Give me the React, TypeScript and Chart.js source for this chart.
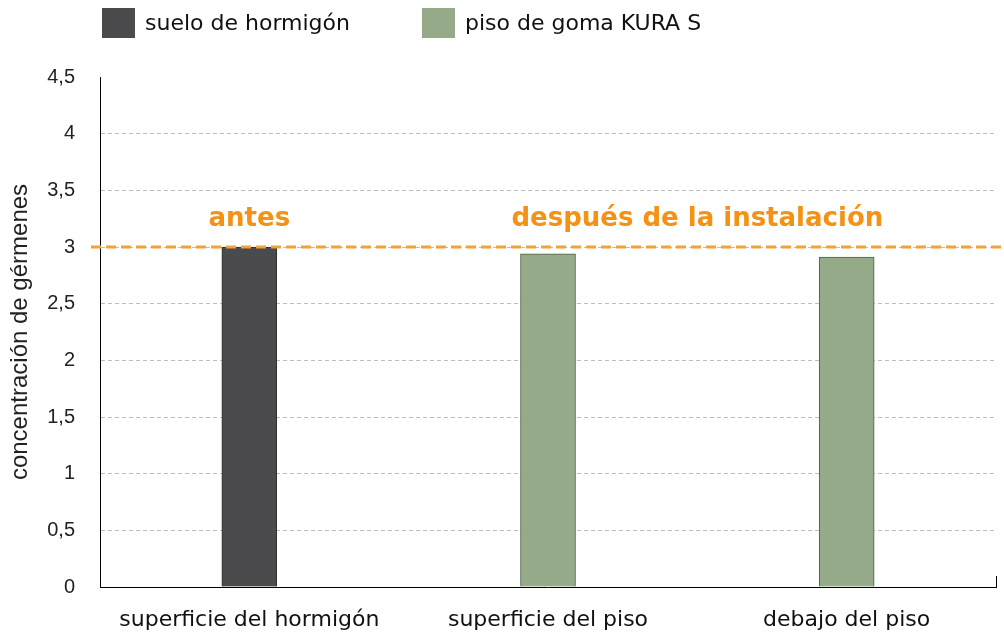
import React, { useEffect, useRef } from "react";
import { Chart, registerables } from "chart.js";

Chart.register(...registerables);

// ---- data ----
const categories = ["superficie del hormigón", "superficie del piso", "debajo del piso"];
const seriesLabels = ["suelo de hormigón", "piso de goma KURA S"];
const concreteValues = [3.0, null, null];
const rubberValues = [null, 2.94, 2.91];
const yMin = 0;
const yMax = 4.5;
const yStep = 0.5;
const referenceValue = 3;
const annotationTexts = ["antes", "después de la instalación"];
const yAxisTitle = "concentración de gérmenes";

const DARK = "#4b4b4d";
const GREEN = "#95aa88";
const ORANGE = "#f39214";

const legendPlugin = {
  id: "customLegend",
  afterDraw(chart: any) {
    const { ctx, chartArea } = chart;
    ctx.save();
    ctx.font = '22px "DejaVu Sans"';
    ctx.textBaseline = "middle";
    ctx.textAlign = "left";
    const boxW = 33;
    const boxH = 30;
    const top = 8;
    const gap = 72;
    let x = chartArea.left + 2;
    chart.data.datasets.forEach((ds: any) => {
      ctx.fillStyle = ds.backgroundColor;
      ctx.fillRect(x, top, boxW, boxH);
      ctx.fillStyle = "#111";
      ctx.fillText(ds.label, x + boxW + 10, top + boxH / 2 + 1);
      x += boxW + 10 + ctx.measureText(ds.label).width + gap;
    });
    ctx.restore();
  },
};

const referencePlugin = {
  id: "referenceLine",
  afterDatasetsDraw(chart: any) {
    const { ctx, chartArea, scales } = chart;
    const yy = scales.y.getPixelForValue(referenceValue);
    ctx.save();
    // right end tick of x axis
    ctx.strokeStyle = "#000";
    ctx.lineWidth = 1;
    ctx.beginPath();
    ctx.moveTo(Math.round(chartArea.right) + 0.5, chartArea.bottom - 11);
    ctx.lineTo(Math.round(chartArea.right) + 0.5, chartArea.bottom);
    ctx.stroke();
    // dashed reference line
    ctx.strokeStyle = "#f4a13a";
    ctx.lineWidth = 3;
    ctx.setLineDash([10, 5]);
    ctx.beginPath();
    ctx.moveTo(chartArea.left - 9, yy);
    ctx.lineTo(chart.width, yy);
    ctx.stroke();
    ctx.setLineDash([]);
    // labels
    const m0 = chart.getDatasetMeta(0).data;
    const m1 = chart.getDatasetMeta(1).data;
    ctx.fillStyle = ORANGE;
    ctx.font = 'bold 26px "DejaVu Sans"';
    ctx.textAlign = "center";
    ctx.textBaseline = "alphabetic";
    ctx.fillText(annotationTexts[0], m0[0].x, yy - 21);
    ctx.fillText(annotationTexts[1], (m1[1].x + m1[2].x) / 2, yy - 21);
    ctx.restore();
  },
};

export default function App() {
  const ref = useRef<HTMLCanvasElement>(null);
  useEffect(() => {
    document.body.style.margin = "0";
    if (!ref.current) return;
    const chart = new Chart(ref.current, {
      type: "bar",
      data: {
        labels: categories,
        datasets: [
          {
            label: seriesLabels[0],
            data: concreteValues,
            backgroundColor: DARK,
            borderColor: "#2e2e2e",
            borderWidth: 1,
          },
          {
            label: seriesLabels[1],
            data: rubberValues,
            backgroundColor: GREEN,
            borderColor: "#4c5f45",
            borderWidth: 1,
          },
        ],
      },
      options: {
        animation: false,
        responsive: true,
        maintainAspectRatio: false,
        skipNull: true,
        datasets: { bar: { barThickness: 55 } },
        layout: { padding: { top: 77, right: 8, left: 0, bottom: 0 } },
        plugins: {
          legend: { display: false },
          tooltip: { enabled: false },
        },
        scales: {
          x: {
            grid: { display: false },
            border: { display: true, color: "#000", width: 1 },
            ticks: {
              color: "#111",
              font: { family: "DejaVu Sans", size: 22 },
              padding: 12,
              maxRotation: 0,
              autoSkip: false,
            },
            afterFit: (s: any) => {
              s.height = 47;
            },
          },
          y: {
            min: yMin,
            max: yMax,
            border: { display: true, color: "#000", width: 1, dash: [4, 3] },
            grid: {
              drawTicks: false,
              color: (c: any) =>
                c.tick && (c.tick.value === yMin || c.tick.value === yMax)
                  ? "rgba(0,0,0,0)"
                  : "#bdbdbd",
            },
            ticks: {
              stepSize: yStep,
              color: "#222",
              padding: 25,
              font: { family: "Liberation Sans", size: 20 },
              callback: (v: any) => String(v).replace(".", ","),
            },
            title: {
              display: true,
              text: yAxisTitle,
              color: "#222",
              font: { family: "Liberation Sans", size: 24 },
              padding: { top: 6, bottom: 0 },
            },
            afterFit: (s: any) => {
              s.width = 100;
            },
          },
        },
      } as any,
      plugins: [referencePlugin, legendPlugin],
    });
    return () => chart.destroy();
  }, []);
  return (
    <div style={{ position: "relative", width: 1004, height: 634 }}>
      <canvas ref={ref} />
    </div>
  );
}
